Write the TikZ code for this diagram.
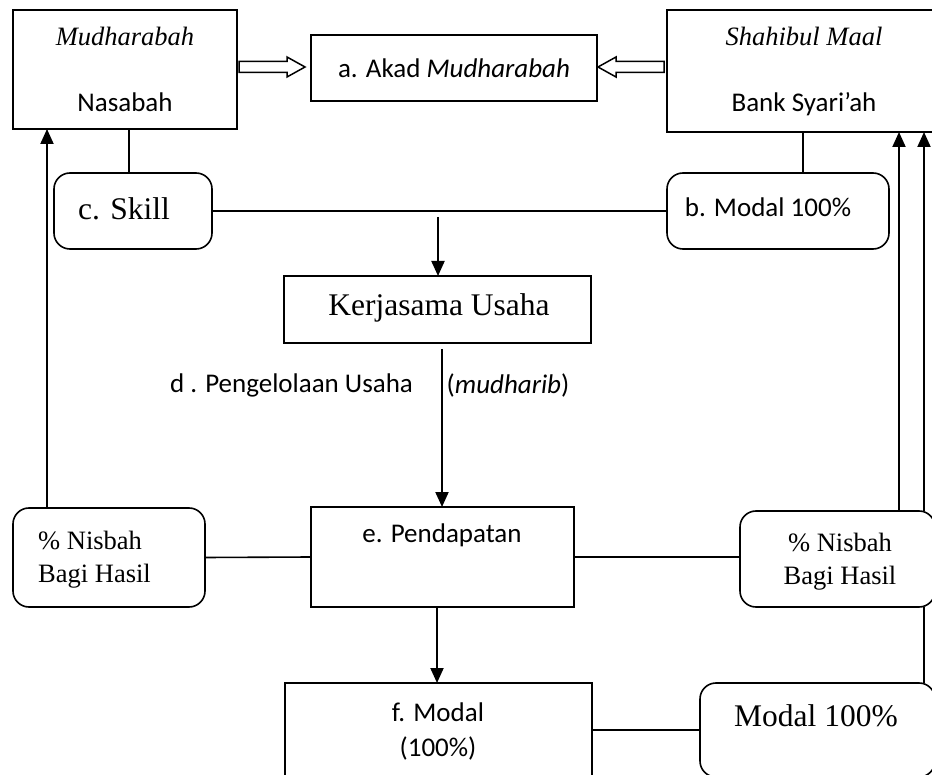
\documentclass[tikz,border=0pt]{standalone}
\usepackage{fontspec}
\setmainfont{Liberation Serif}
\newfontfamily\calib{Carlito}
\usetikzlibrary{arrows.meta,calc}
\begin{document}
\begin{tikzpicture}[x=1pt,y=-1pt,
  box/.style={draw,line width=1.6pt,inner sep=0pt,outer sep=0pt},
  rbox/.style={box,rounded corners=16pt},
  conn/.style={line width=1.6pt},
  arr/.style={line width=2pt,-{Triangle[length=15pt,width=13pt]}},
  hollow/.style={draw,line width=1.5pt,fill=white},
  sL/.style={font=\fontsize{31.5}{38}\selectfont},
  sM/.style={font=\fontsize{26.5}{32}\selectfont},
  sI/.style={font=\fontsize{26.5}{32}\selectfont\itshape},
  cM/.style={font=\calib\fontsize{27}{32}\selectfont},
  txt/.style={inner sep=0pt}]
\useasboundingbox (0,0) rectangle (932,775);
\clip (0,0) rectangle (932,775);

% boxes
\node[box,minimum width=224pt,minimum height=119pt] (nas) at (125,69.5) {};
\node[box,minimum width=286pt,minimum height=66pt,cM] (akad) at (454,68) {a. Akad \textit{Mudharabah}};
\node[box,minimum width=266pt,minimum height=122pt] (shah) at (800,71) {};
\node[rbox,minimum width=158pt,minimum height=76pt] (skill) at (133,211) {};
\node[rbox,minimum width=222pt,minimum height=76pt] (bmod) at (778,211) {};
\node[box,minimum width=307pt,minimum height=67pt] (kerja) at (437.5,309.5) {};
\node[rbox,minimum width=192pt,minimum height=99pt] (lnis) at (109,557.5) {};
\node[box,minimum width=263pt,minimum height=100pt] (pend) at (442.5,557) {};
\node[rbox,minimum width=195pt,minimum height=96pt] (rnis) at (837.5,559) {};
\node[box,minimum width=307pt,minimum height=107pt] (fmod) at (438.5,736.5) {};
\node[rbox,minimum width=235pt,minimum height=94pt] (mhund) at (817.5,730) {};

% texts
\node[txt,sI] (t1) at (125,36) {Mudharabah};
\node[txt,cM] (t2) at (125,102) {Nasabah};
\node[txt,sI] (t3) at (804,36) {Shahibul Maal};
\node[txt,cM] (t4) at (804,104) {Bank Syari’ah};
\node[txt,sL] (t5) at (124,209) {c. Skill};
\node[txt,cM] (t6) at (768,207) {b. Modal 100\%};
\node[txt,sL] (t7) at (439,308) {Kerjasama Usaha};
\node[txt,cM] (t8) at (291.5,385) {d . Pengelolaan Usaha};
\node[txt,cM] (t9) at (508,385) {(\textit{mudharib})};
\node[txt,sM,anchor=west] (t10) at (38,540) {\% Nisbah};
\node[txt,sM,anchor=west] (t11) at (38,576) {Bagi Hasil};
\node[txt,cM] (t12) at (442,535) {e. Pendapatan};
\node[txt,sM] (t13) at (840,542) {\% Nisbah};
\node[txt,sM] (t14) at (840,578) {Bagi Hasil};
\node[txt,cM] (t15) at (438,712) {f. Modal};
\node[txt,cM] (t16) at (438,748) {(100\%)};
\node[txt,sL] (t17) at (816,716) {Modal 100\%};

% hollow arrows
\draw[hollow] (nas.east) ++(2,-2.5) ++(0,-5.5) -- ++(48,0) -- ++(0,-4.5) -- ++(18,10) -- ++(-18,10) -- ++(0,-4.5) -- ++(-48,0) -- cycle;
\draw[hollow] (shah.west) ++(-3,-4) ++(0,-5.5) -- ++(-48,0) -- ++(0,-4.5) -- ++(-18,10) -- ++(18,10) -- ++(0,-4.5) -- ++(48,0) -- cycle;

% connectors
\draw[conn] ([xshift=4pt]nas.south) -- ([xshift=-4pt]skill.north);
\draw[conn] ([xshift=3pt]shah.south) -- ([xshift=25pt]bmod.north);
\draw[conn] (skill.east) -- (bmod.west);
\coordinate (j) at (438,217);
\draw[arr] (j) -- (kerja.north -| j);
\draw[arr] ([xshift=4.5pt,yshift=-6pt]kerja.south) -- ([xshift=-0.5pt]pend.north);
\draw[arr] ([xshift=-62pt]lnis.north) -- ([xshift=-78pt]nas.south);
\draw[conn] (lnis.east) -- (pend.west);
\draw[conn] (pend.east) -- (pend.east -| rnis.west);
\draw[arr] ([xshift=61.5pt]rnis.north) -- ([xshift=99pt]shah.south);
\draw[conn] ([xshift=106.5pt]mhund.north) -- ([xshift=86.5pt]rnis.south);
\draw[arr] ([xshift=86.5pt]rnis.north) -- ([xshift=124pt]shah.south);
\draw[arr] ([xshift=-5.5pt]pend.south) -- ([xshift=-1.5pt]fmod.north);
\draw[conn] (mhund.west -| fmod.east) -- (mhund.west);
\end{tikzpicture}
\end{document}
